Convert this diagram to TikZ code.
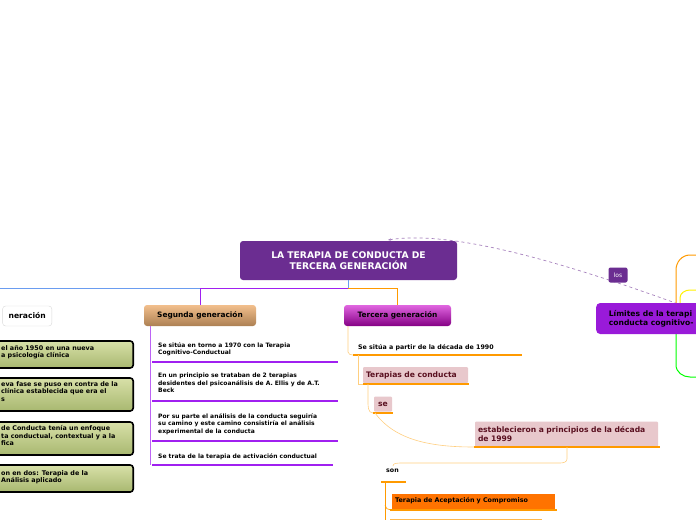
\documentclass[tikz,border=0pt]{standalone}
\usepackage{fontspec}
\setmainfont{DejaVu Sans}
\usetikzlibrary{arrows.meta}
\begin{document}
\begin{tikzpicture}[x=1pt,y=-1pt,
  every node/.style={font=\bfseries, inner sep=0pt},
  sm/.style={font=\bfseries\fontsize{6}{7.6}\selectfont, align=left, anchor=north west},
  ol/.style={font=\bfseries\fontsize{6.4}{7.8}\selectfont, align=left, anchor=north west},
  olive/.style={draw=black, line width=1.6pt, rounded corners=3pt, top color=olivetop, bottom color=olivebot},
  und/.style={line width=1.8pt},
  pinkbox/.style={fill=pinkf, text=darkred, rounded corners=1pt},
  conn/.style={line width=0.6pt}]
\definecolor{cpurple}{HTML}{6B2D91}
\definecolor{vio}{HTML}{A020F0}
\definecolor{orng}{HTML}{FF9A00}
\definecolor{lorng}{HTML}{FFCF80}
\definecolor{olivetop}{HTML}{D8E0A8}
\definecolor{olivebot}{HTML}{A8B870}
\definecolor{pinkf}{HTML}{E8C8CC}
\definecolor{darkred}{HTML}{5A1020}
\definecolor{cblue}{HTML}{6A9CF0}
\useasboundingbox (0,0) rectangle (696,520);
\clip (0,0) rectangle (696,520);
\fill[white] (0,0) rectangle (696,520);
% dashed relation
\draw[cpurple!60, dashed, line width=0.7pt, -{Stealth[length=3pt]}] (700,312) .. controls (560,260) and (450,230) .. (388,240);
\node[fill=cpurple, rounded corners=2pt, minimum width=19pt, minimum height=15pt, text=white, font=\fontsize{6}{7}\selectfont] (los) at (618,275) {los};
% central
\node[fill=cpurple, rounded corners=3pt, minimum width=217pt, minimum height=39pt, text=white, align=center, font=\bfseries\fontsize{9.2}{11}\selectfont] (c) at (348.5,260.5) {LA TERAPIA DE CONDUCTA DE\\TERCERA GENERACIÓN};
% trunks
\draw[cblue, conn] (348,280) -- (348,288) -- (0,288);
\draw[vio, conn] (348,288) -- (200,288) -- (200,305);
\draw[orng, conn] (348,288) -- (397,288) -- (397,305);
% primera
\node[draw=gray!30, fill=white, rounded corners=3pt, minimum height=20pt, anchor=east, font=\bfseries\fontsize{7.6}{9}\selectfont, inner xsep=6pt] (p) at (52,316) {neración};
\node[olive, minimum width=160pt, minimum height=27pt, anchor=east] (o1) at (134,354.5) {};
\node[ol] at (1,345) {el año 1950 en una nueva\\a psicología clínica};
\node[olive, minimum width=160pt, minimum height=33pt, anchor=east] (o2) at (134,394.5) {};
\node[ol] at (1,381) {eva fase se puso en contra de la\\clínica establecida que era el\\s};
\node[olive, minimum width=160pt, minimum height=33pt, anchor=east] (o3) at (134,438.5) {};
\node[ol] at (1,425) {de Conducta tenía un enfoque\\ta conductual, contextual y a la\\fica};
\node[olive, minimum width=160pt, minimum height=27pt, anchor=east] (o4) at (134,478.5) {};
\node[ol] at (1,470) {on en dos: Terapia de la\\ Análisis aplicado};
% segunda
\node[top color=brown!40!orange!50, bottom color=brown!70!gray, rounded corners=3pt, minimum width=112pt, minimum height=21pt, font=\bfseries\fontsize{7.4}{9}\selectfont] (s) at (200,315.5) {Segunda generación};
\draw[vio!70, conn] (150,326) -- (150,465);
\node[sm] (s1) at (158,342) {Se sitúa en torno a 1970 con la Terapia\\Cognitivo-Conductual};
\node[sm] (s2) at (158,373) {En un principio se trataban de 2 terapias\\desidentes del psicoanálisis de A. Ellis y de A.T.\\Beck};
\node[sm] (s3) at (158,413) {Por su parte el análisis de la conducta seguiría\\su camino y este camino consistiría el análisis\\experimental de la conducta};
\node[sm] (s4) at (158,453) {Se trata de la terapia de activación conductual};
\foreach \y/\xe in {362/338,401/338,441/338,465/333} \draw[vio, und] (152,\y) -- (\xe,\y);
% tercera
\node[top color=violet!40!magenta!60, bottom color=violet!70!magenta!80!black, rounded corners=3pt, minimum width=107pt, minimum height=21pt, font=\bfseries\fontsize{7.4}{9}\selectfont] (t) at (397.5,315.5) {Tercera generación};
\draw[lorng, conn] (348,326) -- (348,352) to[out=-90,in=180] (353,355);
\draw[orng, und] (353,355) -- (522,355);
\node[sm, font=\bfseries\fontsize{6.3}{7.5}\selectfont] (t1) at (358,344) {Se sitúa a partir de la década de 1990};
\draw[lorng, conn] (358,355) -- (358,384) -- (363,384);
\node[pinkbox, minimum width=105pt, minimum height=16pt, font=\bfseries\fontsize{7.6}{9}\selectfont, text width=99pt, align=left] (tc) at (415.5,375) {Terapias de conducta};
\draw[orng, und] (363,384) -- (469,384);
\draw[lorng, conn] (368,384) -- (368,400) to[out=-90,in=180] (373,413);
\node[pinkbox, minimum width=18pt, minimum height=15pt, font=\bfseries\fontsize{7.6}{9}\selectfont] (se) at (383,404) {se};
\draw[orng, und] (373,413) -- (393,413);
\draw[lorng, conn] (375,413) .. controls (395,440) and (430,447) .. (474,447);
\node[pinkbox, minimum width=183pt, minimum height=25pt, align=left, text width=177pt, font=\bfseries\fontsize{7.6}{9.4}\selectfont] (es) at (566.5,434) {establecieron a principios de la década\\de 1999};
\draw[orng, und] (474,447) -- (660,447);
\draw[lorng, conn] (567,447) -- (567,459) to[out=-90,in=0] (560,463) -- (400,463) to[out=180,in=90] (393,466);
\node[sm, font=\bfseries\fontsize{6.3}{7.5}\selectfont] (son) at (386,469) {son};
\draw[orng, und] (381,482) -- (406,482);
\draw[orng, conn] (385,482) -- (385,520);
\draw[orng, conn] (385,505) to[out=-90,in=180] (391,510);
\node[fill=orange!90!red, minimum width=163pt, minimum height=15pt, font=\bfseries\fontsize{6.4}{7.5}\selectfont, text width=157pt, align=left] (ac) at (473.5,501) {Terapia de Aceptación y Compromiso};
\draw[orng, und] (390,510) -- (557,510);
\draw[orng!70, line width=1pt] (390,519.5) -- (542,519.5);
% right side
\draw[orng, line width=1pt] (676,305) -- (676,270) to[out=90,in=180] (690,255) -- (700,255);
\draw[yellow, line width=1pt] (680,305) -- (680,298) to[out=90,in=180] (690,290) -- (700,290);
\draw[green, line width=1pt] (676,330) -- (676,365) to[out=-90,in=180] (690,377) -- (700,377);
\node[fill=vio!80!violet, rounded corners=4pt, minimum width=110pt, minimum height=31pt, anchor=west, align=left, font=\bfseries\fontsize{7.6}{9.4}\selectfont, inner xsep=7pt] (lim) at (596,318.5) {Límites de la terapi\\conducta cognitivo-};
\end{tikzpicture}
\end{document}
